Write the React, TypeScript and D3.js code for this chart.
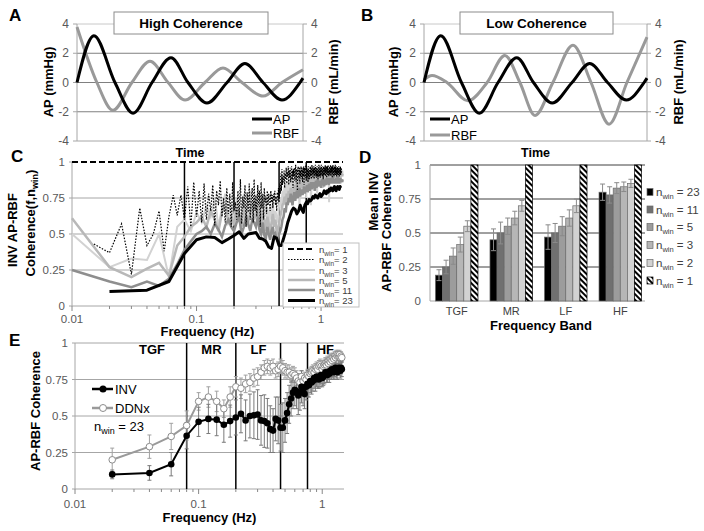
import React from 'react';
import * as d3 from 'd3';

const FONT = "'Liberation Sans', Arial, Helvetica, sans-serif";
const TICK = '#595959';

// ---------------- Panels A & B (time series) ----------------
const apTime = [0, 7.5, 16.8, 24.8, 33.2, 41.6, 49.1, 57.5, 66.4, 74.3, 82.3, 90.7, 98.7, 100];
const apValues = [0, 3.2, 0, -2.1, 0, 1.7, 0, -1.4, 0, 1.3, 0, -1.2, 0, 0.3];
const rbfHighTime = [0, 8.8, 15.9, 24.3, 32.3, 40.3, 47.8, 56.6, 64.6, 73, 82.3, 90.7, 100];
const rbfHighValues = [3.8, 0, -1.9, 0, 1.45, 0, -1.2, 0, 1.0, 0, -0.93, 0, 0.87];
const rbfLowTime = [0, 3.6, 10.3, 19.7, 28.3, 36.3, 43, 49.8, 57.8, 66.8, 74.9, 83, 91, 100];
const rbfLowValues = [0.2, 0.48, 0, -1.25, 0, 1.85, 0, -2.25, 0, 2.55, 0, -2.85, 0, 3.1];
const timeTicks = [-4, -2, 0, 2, 4];

// ---------------- Panel C (coherence vs frequency, several n_win) ----------------
const cN1Freq = [0.01, 1.5];
const cN1 = [1, 1];
const cN2Start = 0.015;
const cN2Step = 0.005;
const cN2 = [
  0.43, 0.37, 0.57, 0.22, 0.68, 0.42, 0.50, 0.66, 0.38, 0.62,
  0.77, 0.63, 0.77, 0.60, 0.83, 0.55, 0.86, 0.62, 0.80, 0.58,
  0.85, 0.60, 0.78, 0.66, 0.84, 0.56, 0.80, 0.70, 0.87, 0.62,
  0.75, 0.58, 0.82, 0.64, 0.78, 0.55, 0.86, 0.66, 0.72, 0.60,
  0.80, 0.62, 0.88, 0.57, 0.76, 0.68, 0.84, 0.55, 0.79, 0.65,
  0.85, 0.60, 0.74, 0.82, 0.58, 0.88, 0.66, 0.77, 0.62, 0.84,
  0.70, 0.80, 0.55, 0.86, 0.68, 0.78, 0.60, 0.82, 0.72, 0.76,
  0.64, 0.80, 0.70, 0.78, 0.74, 0.66, 0.80, 0.72, 0.77, 0.68,
  0.78, 0.73, 0.80, 0.70, 0.76, 0.66, 0.79, 0.74, 0.82, 0.72,
  0.85, 0.78, 0.92, 0.80, 0.95, 0.84, 0.90, 0.86, 0.94, 0.82,
  0.92, 0.88, 0.96, 0.85, 0.93, 0.90, 0.97, 0.84, 0.94, 0.89,
  0.96, 0.86, 0.92, 0.97, 0.88, 0.94, 0.82, 0.95, 0.90, 0.96,
  0.87, 0.93, 0.98, 0.86, 0.91, 0.95, 0.80, 0.94, 0.97, 0.88,
  0.92, 0.96, 0.85, 0.94, 0.90, 0.97, 0.88, 0.93, 0.96, 0.86,
  0.95, 0.90, 0.97, 0.84, 0.93, 0.96, 0.89, 0.94, 0.98, 0.87,
  0.92, 0.96, 0.90, 0.95, 0.86, 0.97, 0.91, 0.94, 0.88, 0.96,
  0.93, 0.97, 0.90, 0.95, 0.88, 0.94, 0.98, 0.91, 0.96, 0.89,
  0.95, 0.92, 0.97, 0.88, 0.94, 0.96, 0.90, 0.98, 0.93, 0.91,
  0.96, 0.89, 0.94, 0.97, 0.91, 0.95, 0.88, 0.96, 0.93, 0.98,
  0.90, 0.95, 0.92, 0.97, 0.89, 0.94, 0.96, 0.91, 0.98, 0.93,
  0.95, 0.90, 0.97, 0.93, 0.96, 0.88, 0.94, 0.97, 0.92, 0.95,
  0.91, 0.96, 0.93, 0.98, 0.90, 0.95, 0.92, 0.97, 0.94, 0.89,
  0.96, 0.93, 0.97, 0.91, 0.95, 0.98, 0.92, 0.94, 0.90, 0.96,
  0.93, 0.97, 0.91, 0.95, 0.92, 0.98, 0.94, 0.90, 0.96, 0.93,
  0.97, 0.92, 0.95, 0.89, 0.96, 0.94, 0.98, 0.91, 0.95, 0.93,
  0.96, 0.90, 0.94, 0.97, 0.92, 0.95, 0.93, 0.98, 0.91, 0.96,
  0.94, 0.97, 0.92, 0.95, 0.90, 0.96, 0.93, 0.97, 0.91, 0.95,
  0.93, 0.96, 0.91, 0.94, 0.97, 0.92, 0.95, 0.90, 0.96, 0.94,
  0.92, 0.95, 0.93, 0.97, 0.91, 0.94, 0.96, 0.92, 0.95, 0.93,
];
const cFineStart = 0.01;
const cFineStep = 0.01;
const cN3 = [
  0.50, 0.27, 0.33, 0.32, 0.50, 0.20, 0.55, 0.60, 0.52,
  0.65, 0.58, 0.70, 0.62, 0.75, 0.55, 0.68, 0.78, 0.60, 0.72,
  0.58, 0.75, 0.65, 0.60, 0.78, 0.55, 0.70, 0.80, 0.62, 0.74,
  0.66, 0.78, 0.60, 0.72, 0.58, 0.75, 0.62, 0.68, 0.55, 0.70,
  0.60, 0.74, 0.56, 0.66, 0.62, 0.58, 0.70, 0.75, 0.68, 0.80,
  0.76, 0.84, 0.72, 0.86, 0.78, 0.88, 0.74, 0.85, 0.90, 0.70,
  0.88, 0.82, 0.92, 0.76, 0.89, 0.85, 0.93, 0.68, 0.87, 0.91,
  0.84, 0.92, 0.78, 0.90, 0.86, 0.94, 0.75, 0.89, 0.92, 0.83,
  0.91, 0.87, 0.94, 0.70, 0.90, 0.93, 0.85, 0.92, 0.88, 0.95,
  0.86, 0.93, 0.90, 0.78, 0.94, 0.88, 0.92, 0.95, 0.84, 0.91,
  0.93, 0.87, 0.95, 0.90, 0.82, 0.94, 0.91, 0.88, 0.95, 0.90,
  0.92, 0.96, 0.87, 0.93, 0.90, 0.95, 0.72, 0.92, 0.94, 0.89,
  0.95, 0.91, 0.93, 0.88, 0.96, 0.92, 0.90, 0.94, 0.97, 0.90,
  0.93, 0.95, 0.89, 0.94, 0.92, 0.96, 0.90, 0.93, 0.95, 0.91,
  0.94, 0.90, 0.96, 0.92, 0.85, 0.95, 0.93, 0.91, 0.94, 0.92,
];
const cN5 = [
  0.61, 0.27, 0.20, 0.26, 0.30, 0.21, 0.42, 0.48, 0.55,
  0.58, 0.62, 0.55, 0.66, 0.60, 0.52, 0.65, 0.70, 0.58, 0.62,
  0.56, 0.68, 0.60, 0.55, 0.70, 0.62, 0.58, 0.66, 0.72, 0.60,
  0.64, 0.70, 0.58, 0.55, 0.66, 0.60, 0.52, 0.62, 0.57, 0.50,
  0.58, 0.64, 0.55, 0.60, 0.52, 0.50, 0.58, 0.62, 0.66, 0.70,
  0.72, 0.76, 0.70, 0.78, 0.74, 0.80, 0.76, 0.82, 0.78, 0.75,
  0.80, 0.84, 0.78, 0.82, 0.86, 0.79, 0.83, 0.87, 0.80, 0.84,
  0.86, 0.82, 0.85, 0.88, 0.83, 0.87, 0.84, 0.89, 0.82, 0.86,
  0.88, 0.84, 0.87, 0.90, 0.85, 0.88, 0.86, 0.90, 0.87, 0.84,
  0.88, 0.91, 0.86, 0.89, 0.92, 0.87, 0.90, 0.88, 0.91, 0.89,
  0.86, 0.90, 0.92, 0.88, 0.91, 0.89, 0.87, 0.92, 0.90, 0.88,
  0.91, 0.93, 0.89, 0.92, 0.90, 0.88, 0.93, 0.91, 0.89, 0.92,
  0.90, 0.93, 0.91, 0.89, 0.92, 0.94, 0.90, 0.92, 0.91, 0.89,
  0.92, 0.90, 0.93, 0.91, 0.89, 0.92, 0.94, 0.90, 0.92, 0.91,
  0.89, 0.92, 0.90, 0.93, 0.91, 0.90, 0.92, 0.91, 0.90, 0.92,
];
const cN11 = [
  0.25, 0.17, 0.13, 0.17, 0.14, 0.19, 0.29, 0.39, 0.45,
  0.50, 0.52, 0.55, 0.50, 0.57, 0.53, 0.48, 0.56, 0.60, 0.55,
  0.52, 0.58, 0.62, 0.50, 0.55, 0.63, 0.57, 0.52, 0.60, 0.58,
  0.55, 0.62, 0.53, 0.50, 0.58, 0.49, 0.47, 0.55, 0.50, 0.46,
  0.52, 0.55, 0.48, 0.50, 0.47, 0.45, 0.50, 0.52, 0.55, 0.60,
  0.62, 0.68, 0.65, 0.72, 0.70, 0.75, 0.72, 0.78, 0.74, 0.70,
  0.76, 0.79, 0.73, 0.77, 0.80, 0.75, 0.78, 0.82, 0.76, 0.79,
  0.81, 0.77, 0.80, 0.83, 0.78, 0.82, 0.80, 0.84, 0.79, 0.82,
  0.85, 0.80, 0.83, 0.86, 0.81, 0.84, 0.82, 0.86, 0.83, 0.80,
  0.84, 0.87, 0.82, 0.85, 0.88, 0.83, 0.86, 0.84, 0.87, 0.85,
  0.82, 0.86, 0.88, 0.84, 0.87, 0.85, 0.83, 0.88, 0.86, 0.84,
  0.87, 0.89, 0.85, 0.88, 0.86, 0.84, 0.89, 0.87, 0.85, 0.88,
  0.86, 0.89, 0.87, 0.85, 0.88, 0.90, 0.86, 0.88, 0.87, 0.85,
  0.88, 0.86, 0.89, 0.87, 0.85, 0.88, 0.90, 0.86, 0.88, 0.87,
  0.85, 0.88, 0.86, 0.89, 0.87, 0.86, 0.88, 0.87, 0.86, 0.88,
];

// ---------------- Panel E (n_win = 23, INV vs DDNx) ----------------
const eStart = 0.02;
const eStep = 0.02;
const invMean = [
  0.10, 0.11, 0.17, 0.365, 0.46, 0.48, 0.475, 0.44, 0.465, 0.49,
  0.515, 0.47, 0.50, 0.505, 0.51, 0.47, 0.465, 0.45, 0.41, 0.40,
  0.48, 0.47, 0.42, 0.42, 0.47, 0.52, 0.58, 0.62, 0.66, 0.68,
  0.67, 0.64, 0.66, 0.70, 0.67, 0.65, 0.70, 0.72, 0.71, 0.74,
  0.73, 0.74, 0.76, 0.75, 0.77, 0.76, 0.75, 0.77, 0.78, 0.76,
  0.77, 0.78, 0.80, 0.79, 0.78, 0.80, 0.79, 0.81, 0.80, 0.82,
  0.81, 0.80, 0.82, 0.83, 0.81, 0.80, 0.82, 0.83, 0.82, 0.81,
  0.83, 0.82,
];
const invErr = [
  0.03, 0.05, 0.08, 0.09, 0.10, 0.10, 0.11, 0.12, 0.11, 0.12,
  0.13, 0.14, 0.15, 0.16, 0.17, 0.17, 0.18, 0.17, 0.16, 0.15,
  0.15, 0.16, 0.16, 0.17, 0.15, 0.14, 0.13, 0.12, 0.11, 0.11,
  0.12, 0.13, 0.12, 0.11, 0.10, 0.10, 0.09, 0.09, 0.08, 0.08,
  0.08, 0.07, 0.07, 0.08, 0.07, 0.07, 0.06, 0.07, 0.06, 0.06,
  0.06, 0.06, 0.05, 0.06, 0.05, 0.05, 0.06, 0.05, 0.05, 0.05,
  0.05, 0.05, 0.05, 0.04, 0.05, 0.05, 0.04, 0.05, 0.04, 0.05,
  0.04, 0.05,
];
const ddnxMean = [
  0.20, 0.29, 0.36, 0.435, 0.60, 0.63, 0.60, 0.55, 0.63, 0.70,
  0.69, 0.72, 0.73, 0.76, 0.77, 0.80, 0.83, 0.84, 0.83, 0.84,
  0.81, 0.82, 0.84, 0.83, 0.81, 0.80, 0.80, 0.78, 0.79, 0.78,
  0.76, 0.74, 0.73, 0.77, 0.74, 0.76, 0.75, 0.78, 0.77, 0.79,
  0.80, 0.81, 0.80, 0.82, 0.83, 0.82, 0.84, 0.85, 0.84, 0.82,
  0.84, 0.85, 0.86, 0.85, 0.87, 0.86, 0.88, 0.87, 0.89, 0.88,
  0.90, 0.89, 0.91, 0.90, 0.92, 0.91, 0.92, 0.91, 0.92, 0.90,
  0.91, 0.90,
];
const ddnxErr = [
  0.08, 0.08, 0.09, 0.10, 0.06, 0.07, 0.07, 0.06, 0.07, 0.07,
  0.07, 0.06, 0.06, 0.06, 0.06, 0.05, 0.05, 0.05, 0.05, 0.05,
  0.05, 0.05, 0.05, 0.05, 0.05, 0.05, 0.05, 0.05, 0.05, 0.05,
  0.05, 0.05, 0.05, 0.04, 0.04, 0.04, 0.04, 0.04, 0.04, 0.04,
  0.04, 0.04, 0.04, 0.04, 0.04, 0.04, 0.04, 0.04, 0.04, 0.04,
  0.04, 0.04, 0.04, 0.04, 0.04, 0.04, 0.04, 0.04, 0.04, 0.04,
  0.03, 0.03, 0.03, 0.03, 0.03, 0.03, 0.03, 0.03, 0.03, 0.03,
  0.03, 0.03,
];
const bandEdges = [0.08, 0.2, 0.46, 0.76];
const bandNames = ['TGF', 'MR', 'LF', 'HF'];
const bandLabelFreq = [0.042, 0.127, 0.305, 1.06];
const cohTicks = [0, 0.25, 0.5, 0.75, 1];
const freqMajor = [0.01, 0.1, 1];
const freqMinor = [0.02, 0.03, 0.04, 0.05, 0.06, 0.07, 0.08, 0.09, 0.2, 0.3, 0.4, 0.5, 0.6, 0.7, 0.8, 0.9];

// ---------------- Panel D (band means) ----------------
const winKeys = ['23', '11', '5', '3', '2', '1'];
const meanN23 = [0.19, 0.45, 0.47, 0.80];
const errN23 = [0.04, 0.08, 0.09, 0.06];
const meanN11 = [0.25, 0.50, 0.50, 0.78];
const errN11 = [0.05, 0.08, 0.07, 0.06];
const meanN5 = [0.33, 0.55, 0.55, 0.83];
const errN5 = [0.06, 0.06, 0.07, 0.04];
const meanN3 = [0.415, 0.61, 0.61, 0.84];
const errN3 = [0.055, 0.05, 0.06, 0.035];
const meanN2 = [0.55, 0.70, 0.70, 0.865];
const errN2 = [0.04, 0.04, 0.05, 0.03];
const meanN1 = [1, 1, 1, 1];
const errN1 = [0, 0, 0, 0];

const grid = (start: number, step: number, n: number) =>
  d3.range(n).map((i) => +(start + i * step).toFixed(4));

type Pt = [number, number];

function Sub({ x, y, pre, sub, post, size, fill, weight, sub2 }: any) {
  return (
    <text x={x} y={y} fontSize={size} fill={fill} fontWeight={weight}>
      {pre}
      <tspan fontSize={sub2} dy={3}>{sub}</tspan>
      <tspan dy={-3}>{post}</tspan>
    </text>
  );
}

function TimePanel(props: any) {
  const { x0, x1, letter, letterX, title, boxX0, boxX1, rbfT, rbfV, legX, legY1, legY2, labLX, labRX } = props;
  const x = d3.scaleLinear().domain([0, 100]).range([x0, x1]);
  const y = d3.scaleLinear().domain([-4, 4]).range([141, 24]);
  const line = d3.line<Pt>().x((d) => x(d[0])).y((d) => y(d[1])).curve(d3.curveMonotoneX);
  const ap = d3.zip(apTime, apValues) as Pt[];
  const rbf = d3.zip(rbfT, rbfV) as Pt[];
  return (
    <g>
      {timeTicks.map((t) => (
        <line key={'g' + t} x1={x0} x2={x1} y1={y(t)} y2={y(t)}
          stroke={t === -4 ? '#a6a6a6' : t === 4 ? '#c8c8c8' : '#808080'} strokeWidth={1} />
      ))}
      <line x1={x0} x2={x0} y1={y(4)} y2={y(-4)} stroke="#a6a6a6" />
      <line x1={x1} x2={x1} y1={y(4)} y2={y(-4)} stroke="#a6a6a6" />
      {timeTicks.map((t) => (
        <g key={'t' + t}>
          <line x1={x0 - 4} x2={x0} y1={y(t)} y2={y(t)} stroke="#a6a6a6" />
          <line x1={x1} x2={x1 + 4} y1={y(t)} y2={y(t)} stroke="#a6a6a6" />
          <text x={x0 - 8} y={y(t) + 4} fontSize={12} fill={TICK} textAnchor="end">{t}</text>
          <text x={x1 + 8} y={y(t) + 4} fontSize={12} fill={TICK}>{t}</text>
        </g>
      ))}
      <path d={line(rbf) || ''} fill="none" stroke="#999999" strokeWidth={3} />
      <path d={line(ap) || ''} fill="none" stroke="#000" strokeWidth={3} />
      <rect x={boxX0} y={12} width={boxX1 - boxX0} height={22} fill="#fff" stroke="#8c8c8c" />
      <text x={(boxX0 + boxX1) / 2} y={28} fontSize={13.5} fontWeight="bold" textAnchor="middle">{title}</text>
      <line x1={legX} x2={legX + 20} y1={legY1} y2={legY1} stroke="#000" strokeWidth={3} />
      <text x={legX + 21} y={legY1 + 5} fontSize={13}>AP</text>
      <line x1={legX} x2={legX + 20} y1={legY2} y2={legY2} stroke="#999" strokeWidth={3} />
      <text x={legX + 21} y={legY2 + 5} fontSize={13}>RBF</text>
      <text x={(x0 + x1) / 2} y={157} fontSize={12.5} fontWeight="bold" textAnchor="middle">Time</text>
      <text transform={`translate(${labLX},82) rotate(-90)`} fontSize={13} fontWeight="bold" textAnchor="middle">AP (mmHg)</text>
      <text transform={`translate(${labRX},82) rotate(-90)`} fontSize={13} fontWeight="bold" textAnchor="middle">RBF (mL/min)</text>
      <text x={letterX} y={21} fontSize={17} fontWeight="bold">{letter}</text>
    </g>
  );
}

function FreqAxes({ x, y, x0, x1, yTop, yBot, labelY, titleY, gridTop }: any) {
  return (
    <g>
      {cohTicks.map((t) => (
        <g key={t}>
          {t > 0 && (t < 1 || gridTop) && (
            <line x1={x0} x2={x1} y1={y(t)} y2={y(t)} stroke="#a6a6a6" />
          )}
          <text x={x0 - 7} y={y(t) + 4} fontSize={11.5} fill={TICK} textAnchor="end">{t}</text>
          <line x1={x0 - 3} x2={x0} y1={y(t)} y2={y(t)} stroke="#a6a6a6" />
        </g>
      ))}
      <line x1={x0} x2={x0} y1={yTop} y2={yBot} stroke="#a6a6a6" />
      <line x1={x0} x2={x1} y1={yBot} y2={yBot} stroke="#a6a6a6" />
      {freqMajor.map((f) => (
        <g key={f}>
          <line x1={x(f)} x2={x(f)} y1={yBot} y2={yBot + 5} stroke="#888" />
          <text x={x(f)} y={labelY} fontSize={11.5} fill={TICK} textAnchor="middle">{f}</text>
        </g>
      ))}
      {freqMinor.map((f) => (
        <line key={f} x1={x(f)} x2={x(f)} y1={yBot} y2={yBot + 3} stroke="#888" />
      ))}
      {bandEdges.map((f) => (
        <line key={'b' + f} x1={x(f)} x2={x(f)} y1={yTop} y2={yBot} stroke="#000" strokeWidth={1.5} />
      ))}
      <text x={(x0 + x1) / 2} y={titleY} fontSize={13} fontWeight="bold" textAnchor="middle">Frequency (Hz)</text>
    </g>
  );
}

function PanelC() {
  const x = d3.scaleLog().domain([0.01, 1.5]).range([72, 343]);
  const y = d3.scaleLinear().domain([0, 1]).range([306, 162]);
  const line = d3.line<Pt>().x((d) => x(d[0])).y((d) => y(d[1]));
  const fine = grid(cFineStart, cFineStep, cN3.length);
  const s2 = d3.zip(grid(cN2Start, cN2Step, cN2.length), cN2) as Pt[];
  const s3 = d3.zip(fine, cN3) as Pt[];
  const s5 = d3.zip(fine, cN5) as Pt[];
  const s11 = d3.zip(fine, cN11) as Pt[];
  const s23 = d3.zip(grid(eStart, eStep, invMean.length), invMean) as Pt[];
  const s1 = d3.zip(cN1Freq, cN1) as Pt[];
  const legend = [
    { k: '1', stroke: '#000', w: 2, dash: '6,3' },
    { k: '2', stroke: '#000', w: 1.2, dash: '1.5,1.5' },
    { k: '3', stroke: '#d2d2d2', w: 2, dash: undefined },
    { k: '5', stroke: '#b8b8b8', w: 2.5, dash: undefined },
    { k: '11', stroke: '#8e8e8e', w: 2.5, dash: undefined },
    { k: '23', stroke: '#000', w: 3, dash: undefined },
  ];
  const legY = [249, 259.5, 270, 280, 290, 300.5];
  return (
    <g>
      <FreqAxes x={x} y={y} x0={72} x1={343} yTop={162} yBot={306} labelY={323} titleY={336} gridTop={false} />
      <path d={line(s3) || ''} fill="none" stroke="#d2d2d2" strokeWidth={2} />
      <path d={line(s5) || ''} fill="none" stroke="#b8b8b8" strokeWidth={2.5} />
      <path d={line(s11) || ''} fill="none" stroke="#8e8e8e" strokeWidth={2.5} />
      <path d={line(s2) || ''} fill="none" stroke="#000" strokeWidth={1.2} strokeDasharray="1.5,1.5" />
      <path d={line(s23) || ''} fill="none" stroke="#000" strokeWidth={3} strokeLinejoin="round" />
      <path d={line(s1) || ''} fill="none" stroke="#000" strokeWidth={2} strokeDasharray="6,3" />
      <rect x={283} y={243} width={76} height={64} fill="#fff" stroke="#bfbfbf" />
      {legend.map((l, i) => (
        <g key={l.k}>
          <line x1={288} x2={315} y1={legY[i]} y2={legY[i]} stroke={l.stroke} strokeWidth={l.w} strokeDasharray={l.dash} />
          <Sub x={319} y={legY[i] + 3.5} pre="n" sub="win" post={`= ${l.k}`} size={9.5} sub2={6.5} fill="#404040" />
        </g>
      ))}
      <text transform="translate(17,230) rotate(-90)" fontSize={13} fontWeight="bold" textAnchor="middle">INV AP-RBF</text>
      <text transform="translate(35,223) rotate(-90)" fontSize={13} fontWeight="bold" textAnchor="middle">
        Coherence(f,n<tspan fontSize={9} dy={3}>win</tspan><tspan dy={-3}>)</tspan>
      </text>
      <text x={11} y={162} fontSize={17} fontWeight="bold">C</text>
    </g>
  );
}

function PanelD() {
  const y = d3.scaleLinear().domain([0, 1]).range([301, 165]);
  const x0 = d3.scaleBand<string>().domain(bandNames).range([430, 647]).paddingInner(0.22).paddingOuter(0.1);
  const x1 = d3.scaleBand<string>().domain(winKeys).range([0, x0.bandwidth()]).padding(0);
  const means: Record<string, number[]> = { '23': meanN23, '11': meanN11, '5': meanN5, '3': meanN3, '2': meanN2, '1': meanN1 };
  const errs: Record<string, number[]> = { '23': errN23, '11': errN11, '5': errN5, '3': errN3, '2': errN2, '1': errN1 };
  const fills: Record<string, string> = { '23': '#000', '11': '#707070', '5': '#9c9c9c', '3': '#b6b6b6', '2': '#d2d2d2', '1': 'url(#hatch)' };
  const legY = [192, 209.5, 227, 245, 263, 280.5];
  return (
    <g>
      {cohTicks.map((t) => (
        <g key={t}>
          {t > 0 && <line x1={430} x2={645} y1={y(t)} y2={y(t)} stroke="#404040" />}
          <text x={421} y={y(t) + 4} fontSize={11.5} fill={TICK} textAnchor="end">{t}</text>
        </g>
      ))}
      <line x1={430} x2={430} y1={165} y2={301} stroke="#a6a6a6" />
      <line x1={430} x2={645} y1={301} y2={301} stroke="#a6a6a6" />
      {bandNames.map((b, bi) => (
        <g key={b}>
          {winKeys.map((k) => {
            const bx = (x0(b) || 0) + (x1(k) || 0);
            const w = x1.bandwidth();
            const v = means[k][bi];
            const e = errs[k][bi];
            return (
              <g key={k}>
                <rect x={bx} y={y(v)} width={w} height={y(0) - y(v)} fill={fills[k]}
                  stroke={k === '1' ? '#000' : '#6a6a6a'} strokeWidth={0.7} />
                {e > 0 && (
                  <g stroke="#8a8a8a" strokeWidth={1}>
                    <line x1={bx + w / 2} x2={bx + w / 2} y1={y(v + e)} y2={y(v - e)} />
                    <line x1={bx + w / 2 - 2.5} x2={bx + w / 2 + 2.5} y1={y(v + e)} y2={y(v + e)} />
                    <line x1={bx + w / 2 - 2.5} x2={bx + w / 2 + 2.5} y1={y(v - e)} y2={y(v - e)} />
                  </g>
                )}
              </g>
            );
          })}
          <text x={(x0(b) || 0) + x0.bandwidth() / 2} y={315} fontSize={11} fill="#404040" textAnchor="middle">{b}</text>
        </g>
      ))}
      {winKeys.map((k, i) => (
        <g key={'l' + k}>
          <rect x={647} y={legY[i] - 3.5} width={6} height={7} fill={fills[k]} stroke={k === '1' ? '#000' : '#6a6a6a'} strokeWidth={0.7} />
          <Sub x={656} y={legY[i] + 4} pre="n" sub="win" post={` = ${k}`} size={11.5} sub2={7.5} fill="#404040" />
        </g>
      ))}
      <text x={541} y={330} fontSize={13} fontWeight="bold" textAnchor="middle">Frequency Band</text>
      <text transform="translate(378,172) rotate(-90)" fontSize={13} fontWeight="bold" textAnchor="end">Mean  INV</text>
      <text transform="translate(391,172) rotate(-90)" fontSize={13} fontWeight="bold" textAnchor="end">AP-RBF Coherence</text>
      <text x={359} y={163} fontSize={17} fontWeight="bold">D</text>
    </g>
  );
}

function PanelE() {
  const x = d3.scaleLog().domain([0.01, 1.5]).range([75, 344]);
  const y = d3.scaleLinear().domain([0, 1]).range([489, 343]);
  const line = d3.line<Pt>().x((d) => x(d[0])).y((d) => y(d[1]));
  const f = grid(eStart, eStep, invMean.length);
  const inv = d3.zip(f, invMean) as Pt[];
  const ddnx = d3.zip(f, ddnxMean) as Pt[];
  const errBars = (means: number[], errs: number[], color: string, key: string) =>
    f.map((fr, i) => {
      const cx = x(fr);
      return (
        <g key={key + i} stroke={color} strokeWidth={1}>
          <line x1={cx} x2={cx} y1={y(means[i] + errs[i])} y2={y(means[i] - errs[i])} />
          <line x1={cx - 2} x2={cx + 2} y1={y(means[i] + errs[i])} y2={y(means[i] + errs[i])} />
          <line x1={cx - 2} x2={cx + 2} y1={y(means[i] - errs[i])} y2={y(means[i] - errs[i])} />
        </g>
      );
    });
  return (
    <g>
      <FreqAxes x={x} y={y} x0={75} x1={344} yTop={343} yBot={489} labelY={508} titleY={522} gridTop={true} />
      {bandNames.map((b, i) => (
        <text key={b} x={x(bandLabelFreq[i])} y={354} fontSize={13} fontWeight="bold" textAnchor="middle">{b}</text>
      ))}
      {errBars(ddnxMean, ddnxErr, '#a0a0a0', 'd')}
      {errBars(invMean, invErr, '#7a7a7a', 'i')}
      <path d={line(ddnx) || ''} fill="none" stroke="#9a9a9a" strokeWidth={2} />
      {ddnx.map((d, i) => (
        <circle key={'dc' + i} cx={x(d[0])} cy={y(d[1])} r={3.3} fill="#fff" stroke="#8c8c8c" strokeWidth={1} />
      ))}
      <path d={line(inv) || ''} fill="none" stroke="#000" strokeWidth={2} />
      {inv.map((d, i) => (
        <circle key={'ic' + i} cx={x(d[0])} cy={y(d[1])} r={3.3} fill="#000" />
      ))}
      <line x1={92} x2={113} y1={389} y2={389} stroke="#000" strokeWidth={2.5} />
      <circle cx={103} cy={389} r={3.5} fill="#000" />
      <text x={115} y={394} fontSize={13}>INV</text>
      <line x1={92} x2={113} y1={408} y2={408} stroke="#9a9a9a" strokeWidth={2.5} />
      <circle cx={103} cy={408} r={3.5} fill="#fff" stroke="#8c8c8c" />
      <text x={115} y={413} fontSize={13}>DDNx</text>
      <Sub x={94} y={431} pre="n" sub="win" post=" = 23" size={13} sub2={9} fill="#000" />
      <text transform="translate(40,411) rotate(-90)" fontSize={13} fontWeight="bold" textAnchor="middle">AP-RBF Coherence</text>
      <text x={9} y={346} fontSize={17} fontWeight="bold">E</text>
    </g>
  );
}

export default function App() {
  return (
    <svg width={704} height={531} style={{ position: 'absolute', left: 0, top: 0, background: '#fff' }} fontFamily={FONT}>
      <defs>
        <pattern id="hatch" patternUnits="userSpaceOnUse" width={4} height={4} patternTransform="rotate(-45)">
          <rect width={4} height={4} fill="#fff" />
          <rect width={2} height={4} fill="#000" />
        </pattern>
      </defs>
      <rect width={704} height={531} fill="#fff" />
      <TimePanel x0={77} x1={303} letter="A" letterX={9} title="High Coherence" boxX0={114} boxX1={268}
        rbfT={rbfHighTime} rbfV={rbfHighValues} legX={252} legY1={119} legY2={133} labLX={53} labRX={338} />
      <TimePanel x0={424} x1={647} letter="B" letterX={361} title="Low Coherence" boxX0={460} boxX1={613}
        rbfT={rbfLowTime} rbfV={rbfLowValues} legX={430} legY1={119} legY2={135} labLX={398} labRX={683} />
      <PanelC />
      <PanelD />
      <PanelE />
    </svg>
  );
}
